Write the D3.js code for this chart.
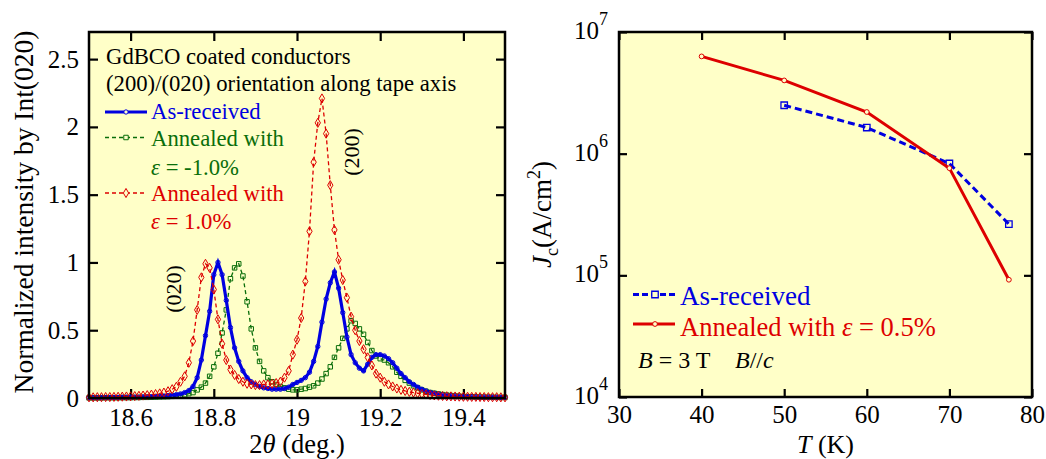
<!DOCTYPE html>
<html>
<head>
<meta charset="utf-8">
<title>GdBCO XRD and Jc</title>
<script src="https://cdn.jsdelivr.net/npm/d3@7"></script>
</head>
<body style="margin:0; background:#fff">
<svg id="chart" width="1046" height="459"></svg>
<script>
// ---- left panel: XRD profiles, 2theta from 18.50 to 19.50 deg (0.01 step)
const theta = [
  18.50,18.51,18.52,18.53,18.54,18.55,18.56,18.57,18.58,18.59,
  18.60,18.61,18.62,18.63,18.64,18.65,18.66,18.67,18.68,18.69,
  18.70,18.71,18.72,18.73,18.74,18.75,18.76,18.77,18.78,18.79,
  18.80,18.81,18.82,18.83,18.84,18.85,18.86,18.87,18.88,18.89,
  18.90,18.91,18.92,18.93,18.94,18.95,18.96,18.97,18.98,18.99,
  19.00,19.01,19.02,19.03,19.04,19.05,19.06,19.07,19.08,19.09,
  19.10,19.11,19.12,19.13,19.14,19.15,19.16,19.17,19.18,19.19,
  19.20,19.21,19.22,19.23,19.24,19.25,19.26,19.27,19.28,19.29,
  19.30,19.31,19.32,19.33,19.34,19.35,19.36,19.37,19.38,19.39,
  19.40,19.41,19.42,19.43,19.44,19.45,19.46,19.47,19.48,19.49,
  19.50
];
const intAsReceived = [
  0.002,0.002,0.002,0.003,0.003,0.003,0.004,0.004,0.005,0.005,
  0.006,0.006,0.007,0.008,0.009,0.010,0.011,0.013,0.015,0.018,
  0.021,0.025,0.030,0.040,0.055,0.085,0.15,0.28,0.46,0.64,
  0.91,1.00,0.91,0.72,0.52,0.37,0.27,0.20,0.15,0.12,
  0.10,0.085,0.075,0.07,0.065,0.065,0.065,0.07,0.08,0.10,
  0.115,0.13,0.15,0.19,0.27,0.38,0.56,0.73,0.85,0.93,
  0.81,0.63,0.45,0.32,0.26,0.22,0.20,0.25,0.30,0.32,
  0.32,0.31,0.29,0.26,0.22,0.18,0.15,0.12,0.10,0.08,
  0.065,0.052,0.042,0.035,0.029,0.024,0.020,0.017,0.015,0.013,
  0.011,0.010,0.009,0.008,0.007,0.007,0.006,0.006,0.005,0.005,
  0.005
];
const intMinus10 = [
  0.001,0.001,0.001,0.001,0.002,0.002,0.002,0.002,0.003,0.003,
  0.003,0.004,0.004,0.005,0.005,0.006,0.007,0.008,0.009,0.010,
  0.012,0.015,0.018,0.024,0.032,0.04,0.06,0.08,0.11,0.16,
  0.23,0.33,0.48,0.65,0.88,0.96,0.99,0.90,0.71,0.51,
  0.37,0.27,0.20,0.15,0.12,0.10,0.085,0.075,0.065,0.06,
  0.06,0.065,0.07,0.08,0.09,0.11,0.14,0.18,0.23,0.30,
  0.37,0.44,0.51,0.57,0.55,0.51,0.47,0.41,0.35,0.31,
  0.29,0.28,0.26,0.23,0.19,0.16,0.13,0.11,0.09,0.075,
  0.06,0.05,0.04,0.035,0.03,0.025,0.021,0.018,0.015,0.013,
  0.011,0.010,0.009,0.008,0.007,0.006,0.006,0.005,0.005,0.004,
  0.004
];
const intPlus10 = [
  0.005,0.005,0.006,0.006,0.007,0.007,0.008,0.009,0.010,0.011,
  0.012,0.014,0.016,0.018,0.021,0.025,0.029,0.034,0.04,0.05,
  0.065,0.083,0.12,0.16,0.26,0.42,0.65,0.89,0.99,0.96,
  0.80,0.58,0.40,0.28,0.21,0.17,0.14,0.12,0.105,0.10,
  0.095,0.095,0.10,0.10,0.105,0.11,0.12,0.15,0.20,0.32,
  0.43,0.59,0.86,1.23,1.74,2.03,2.21,1.95,1.57,1.24,
  1.02,0.87,0.74,0.60,0.50,0.42,0.36,0.30,0.24,0.18,
  0.15,0.12,0.10,0.085,0.07,0.06,0.052,0.045,0.04,0.035,
  0.03,0.026,0.022,0.019,0.017,0.015,0.013,0.012,0.011,0.010,
  0.009,0.009,0.008,0.008,0.007,0.007,0.006,0.006,0.006,0.005,
  0.005
];
const xTicksL = [18.6, 18.8, 19.0, 19.2, 19.4];
const yTicksL = [0, 0.5, 1, 1.5, 2, 2.5];

// ---- right panel: Jc vs T at B = 3 T
const tAsReceived = [50, 60, 70, 77.2];
const jcAsReceived = [2.5e6, 1.64e6, 8.3e5, 2.64e5];
const tAnnealed = [40, 50, 60, 70, 77.2];
const jcAnnealed = [6.3e6, 4.0e6, 2.2e6, 7.6e5, 9.2e4];
const xTicksR = [30, 40, 50, 60, 70, 80];
const yTicksR = [1e4, 1e5, 1e6, 1e7];

const BLUE = '#0000e0', GREEN = '#0a6e0a', RED = '#dd0000', BG = '#ffffc8';
const FONT = 'Liberation Serif';

const svg = d3.select('#chart');

function frame(g, x0, y0, x1, y1) {
  g.append('rect').attr('x', x0).attr('y', y0)
    .attr('width', x1 - x0).attr('height', y1 - y0).attr('fill', BG);
}
function border(g, x0, y0, x1, y1) {
  g.append('rect').attr('x', x0).attr('y', y0)
    .attr('width', x1 - x0).attr('height', y1 - y0)
    .attr('fill', 'none').attr('stroke', '#000').attr('stroke-width', 2.5);
}
function styleAxis(sel, size) {
  sel.attr('font-family', FONT).attr('font-size', size);
  sel.select('.domain').remove();
  sel.selectAll('.tick line').attr('stroke', '#000').attr('stroke-width', 2.2);
  sel.selectAll('.tick text').attr('fill', '#000');
}

// ================= LEFT PANEL =================
const L = {x0: 89, x1: 505, y0: 32, y1: 398};
const xL = d3.scaleLinear().domain([18.5, 19.5]).range([L.x0, L.x1]);
const yL = d3.scaleLinear().domain([0, 2.7]).range([L.y1, L.y0]);
const gL = svg.append('g');
frame(gL, L.x0, L.y0, L.x1, L.y1);

gL.append('g').attr('transform', `translate(0,${L.y1})`)
  .call(d3.axisBottom(xL).tickValues(xTicksL).tickSize(-9).tickPadding(10).tickFormat(d3.format('')))
  .call(s => styleAxis(s, 25));
gL.append('g').attr('transform', `translate(0,${L.y0})`)
  .call(d3.axisTop(xL).tickValues(xTicksL).tickSize(-9).tickFormat(''))
  .call(s => styleAxis(s, 25));
gL.append('g').attr('transform', `translate(${L.x0},0)`)
  .call(d3.axisLeft(yL).tickValues(yTicksL).tickSize(-9).tickPadding(10).tickFormat(d3.format('')))
  .call(s => styleAxis(s, 25));
gL.append('g').attr('transform', `translate(${L.x1},0)`)
  .call(d3.axisRight(yL).tickValues(yTicksL).tickSize(-9).tickFormat(''))
  .call(s => styleAxis(s, 25));

const profiles = [
  {vals: intMinus10, color: GREEN, width: 1.3, dash: '4,3', marker: 'square'},
  {vals: intAsReceived, color: BLUE, width: 3.2, dash: null, marker: 'circle'},
  {vals: intPlus10, color: RED, width: 1.3, dash: '4,3', marker: 'diamond'}
];
const lineL = d3.line().x(d => xL(d[0])).y(d => yL(d[1]));
const symSize = {circle: 15, square: 20, diamond: 24};
const symType = {circle: d3.symbolCircle, square: d3.symbolSquare, diamond: d3.symbolDiamond};

profiles.forEach(p => {
  const pts = theta.map((t, i) => [t, p.vals[i]]);
  gL.append('path').datum(pts).attr('d', lineL)
    .attr('fill', 'none').attr('stroke', p.color).attr('stroke-width', p.width)
    .attr('stroke-dasharray', p.dash);
  gL.append('g').selectAll('path').data(pts).join('path')
    .attr('transform', d => `translate(${xL(d[0])},${yL(d[1])})`)
    .attr('d', d3.symbol(symType[p.marker], symSize[p.marker]))
    .attr('fill', 'none').attr('stroke', p.color).attr('stroke-width', 1);
});
border(gL, L.x0, L.y0, L.x1, L.y1);

// legend / notes
gL.append('text').attr('x', 106).attr('y', 64).attr('font-size', 22.7).text('GdBCO coated conductors');
gL.append('text').attr('x', 106).attr('y', 91).attr('font-size', 22.7).text('(200)/(020) orientation along tape axis');

const legL = [
  {y: 112, color: BLUE, width: 3.2, dash: null, marker: 'circle', lines: [['As-received', 119]]},
  {y: 137.5, color: GREEN, width: 1.3, dash: '4,3', marker: 'square', lines: [['Annealed with', 146], ['eps -1.0%', 175]]},
  {y: 193, color: RED, width: 1.3, dash: '4,3', marker: 'diamond', lines: [['Annealed with', 201], ['eps 1.0%', 229]]}
];
legL.forEach(l => {
  gL.append('line').attr('x1', 105).attr('x2', 147).attr('y1', l.y).attr('y2', l.y)
    .attr('stroke', l.color).attr('stroke-width', l.width).attr('stroke-dasharray', l.dash);
  gL.append('path').attr('transform', `translate(126,${l.y})`)
    .attr('d', d3.symbol(symType[l.marker], symSize[l.marker])())
    .attr('fill', BG).attr('stroke', l.color).attr('stroke-width', 1);
  l.lines.forEach(([txt, yy]) => {
    const t = gL.append('text').attr('x', 151).attr('y', yy).attr('font-size', 22.7).attr('fill', l.color);
    if (txt.startsWith('eps')) {
      t.append('tspan').attr('font-style', 'italic').text('\u03b5');
      t.append('tspan').text(' = ' + txt.slice(4));
    } else t.text(txt);
  });
});

gL.append('text').attr('transform', 'translate(181,289) rotate(-90)')
  .attr('text-anchor', 'middle').attr('font-size', 22).text('(020)');
gL.append('text').attr('transform', 'translate(359,152) rotate(-90)')
  .attr('text-anchor', 'middle').attr('font-size', 22).text('(200)');

gL.append('text').attr('transform', 'translate(33,212) rotate(-90)')
  .attr('text-anchor', 'middle').attr('font-size', 27.5).text('Normalized intensity by Int(020)');
const xlab = gL.append('text').attr('x', (L.x0 + L.x1) / 2).attr('y', 453)
  .attr('text-anchor', 'middle').attr('font-size', 26.5);
xlab.append('tspan').text('2');
xlab.append('tspan').attr('font-style', 'italic').text('\u03b8');
xlab.append('tspan').text(' (deg.)');

// ================= RIGHT PANEL =================
const R = {x0: 619, x1: 1032, y0: 32, y1: 397};
const xR = d3.scaleLinear().domain([30, 80]).range([R.x0, R.x1]);
const yR = d3.scaleLog().domain([1e4, 1e7]).range([R.y1, R.y0]);
const gR = svg.append('g');
frame(gR, R.x0, R.y0, R.x1, R.y1);

gR.append('g').attr('transform', `translate(0,${R.y1})`)
  .call(d3.axisBottom(xR).tickValues(xTicksR).tickSize(-8).tickPadding(8).tickFormat(d3.format('d')))
  .call(s => styleAxis(s, 25));
gR.append('g').attr('transform', `translate(0,${R.y0})`)
  .call(d3.axisTop(xR).tickValues(xTicksR).tickSize(-8).tickFormat(''))
  .call(s => styleAxis(s, 25));
const yAxR = gR.append('g').attr('transform', `translate(${R.x0},0)`)
  .call(d3.axisLeft(yR).tickValues(yTicksR).tickSize(-8).tickPadding(11).tickFormat(d => d))
  .call(s => styleAxis(s, 25));
yAxR.selectAll('.tick text').each(function(d) {
  const t = d3.select(this).text('').attr('dy', '0.26em');
  t.append('tspan').text('10');
  t.append('tspan').attr('dy', -14).attr('font-size', 18).text(Math.round(Math.log10(d)));
});
gR.append('g').attr('transform', `translate(${R.x1},0)`)
  .call(d3.axisRight(yR).tickValues(yTicksR).tickSize(-8).tickFormat(''))
  .call(s => styleAxis(s, 25));

const lineR = d3.line().x(d => xR(d[0])).y(d => yR(d[1]));
const asRec = tAsReceived.map((t, i) => [t, jcAsReceived[i]]);
const ann = tAnnealed.map((t, i) => [t, jcAnnealed[i]]);

gR.append('path').datum(asRec).attr('d', lineR).attr('fill', 'none')
  .attr('stroke', BLUE).attr('stroke-width', 3).attr('stroke-dasharray', '7,4');
gR.append('g').selectAll('path').data(asRec).join('path')
  .attr('transform', d => `translate(${xR(d[0])},${yR(d[1])})`)
  .attr('d', d3.symbol(d3.symbolSquare, 42)).attr('fill', 'none')
  .attr('stroke', BLUE).attr('stroke-width', 1.3);
gR.append('path').datum(ann).attr('d', lineR).attr('fill', 'none')
  .attr('stroke', RED).attr('stroke-width', 3);
gR.append('g').selectAll('path').data(ann).join('path')
  .attr('transform', d => `translate(${xR(d[0])},${yR(d[1])})`)
  .attr('d', d3.symbol(d3.symbolCircle, 18)).attr('fill', BG)
  .attr('stroke', RED).attr('stroke-width', 1);
border(gR, R.x0, R.y0, R.x1, R.y1);

// legend
gR.append('line').attr('x1', 633).attr('x2', 675).attr('y1', 294.5).attr('y2', 294.5)
  .attr('stroke', BLUE).attr('stroke-width', 3).attr('stroke-dasharray', '6,3');
gR.append('path').attr('transform', 'translate(655,294.5)')
  .attr('d', d3.symbol(d3.symbolSquare, 42)()).attr('fill', BG).attr('stroke', BLUE).attr('stroke-width', 1.3);
gR.append('text').attr('x', 680).attr('y', 305).attr('font-size', 27).attr('fill', BLUE).text('As-received');
gR.append('line').attr('x1', 633).attr('x2', 675).attr('y1', 324).attr('y2', 324)
  .attr('stroke', RED).attr('stroke-width', 3);
gR.append('path').attr('transform', 'translate(655,324)')
  .attr('d', d3.symbol(d3.symbolCircle, 18)()).attr('fill', BG).attr('stroke', RED).attr('stroke-width', 1);
const annTxt = gR.append('text').attr('x', 680).attr('y', 336).attr('font-size', 26.5).attr('fill', RED);
annTxt.append('tspan').text('Annealed with ');
annTxt.append('tspan').attr('font-style', 'italic').text('\u03b5');
annTxt.append('tspan').text(' = 0.5%');
const bTxt = gR.append('text').attr('x', 638).attr('y', 368).attr('font-size', 24);
bTxt.append('tspan').attr('font-style', 'italic').text('B');
bTxt.append('tspan').text(' = 3 T');
const bTxt2 = gR.append('text').attr('x', 735).attr('y', 368).attr('font-size', 24);
bTxt2.append('tspan').attr('font-style', 'italic').text('B');
bTxt2.append('tspan').text('//');
bTxt2.append('tspan').attr('font-style', 'italic').text('c');

// axis titles
const jl = gR.append('text').attr('transform', `translate(551,${(R.y0 + R.y1) / 2}) rotate(-90)`)
  .attr('text-anchor', 'middle').attr('font-size', 27);
jl.append('tspan').attr('font-style', 'italic').text('J');
jl.append('tspan').attr('dy', 7).attr('font-size', 18).text('c');
jl.append('tspan').attr('dy', -7).text('(A/cm');
jl.append('tspan').attr('dy', -11).attr('font-size', 18).text('2');
jl.append('tspan').attr('dy', 11).text(')');
const tl = gR.append('text').attr('x', (R.x0 + R.x1) / 2).attr('y', 453)
  .attr('text-anchor', 'middle').attr('font-size', 26);
tl.append('tspan').attr('font-style', 'italic').text('T');
tl.append('tspan').text(' (K)');

svg.selectAll('text').attr('font-family', FONT);
</script>
</body>
</html>
